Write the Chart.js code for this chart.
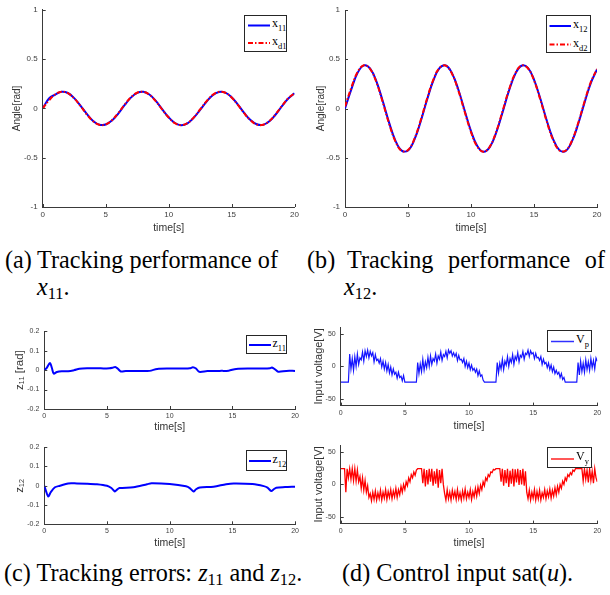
<!DOCTYPE html>
<html>
<head>
<meta charset="utf-8">
<script src="https://cdn.jsdelivr.net/npm/chart.js@4"></script>
<style>
body { margin: 0; background: #fff; }
#fig { position: relative; width: 610px; height: 595px; overflow: hidden; background: #fff; font-family: "Liberation Serif", serif; color: #000; }
#fig canvas { position: absolute; }
.leg { position: absolute; border: 1px solid #262626; background: #fff; box-sizing: border-box; }
.leg svg { position: absolute; left: 0; top: 0; }
.leg .lt { position: absolute; font-size: 12px; line-height: 13px; white-space: nowrap; }
.leg .lt sub { font-size: 8.5px; position: relative; top: 4px; vertical-align: baseline; }
.cap { position: absolute; font-size: 24.2px; line-height: 21px; white-space: nowrap; }
.cap.just { text-align: justify; text-align-last: justify; white-space: normal; }
.cap sub { font-size: 0.68em; vertical-align: baseline; position: relative; top: 0.22em; }
</style>
</head>
<body>
<div id="fig">
  <canvas id="chartA" width="302" height="236" style="left:0;top:0"></canvas>
  <canvas id="chartB" width="305" height="236" style="left:305px;top:0"></canvas>
  <canvas id="chartC1" width="302" height="112" style="left:0;top:322px"></canvas>
  <canvas id="chartC2" width="302" height="112" style="left:0;top:438px"></canvas>
  <canvas id="chartD1" width="305" height="116" style="left:305px;top:318px"></canvas>
  <canvas id="chartD2" width="305" height="114" style="left:305px;top:436px"></canvas>

  <!-- legends -->
  <div class="leg" style="left:244px;top:15px;width:43px;height:37px">
    <svg width="43" height="37"><line x1="3" y1="9.5" x2="25" y2="9.5" stroke="#0000ff" stroke-width="2"/><line x1="3" y1="27" x2="25" y2="27" stroke="#ff0000" stroke-width="2" stroke-dasharray="5 2 1.5 2"/></svg>
    <span class="lt" style="left:27px;top:1px">x<sub>11</sub></span>
    <span class="lt" style="left:27px;top:19px">x<sub>d1</sub></span>
  </div>
  <div class="leg" style="left:546px;top:15px;width:45px;height:38px">
    <svg width="45" height="38"><line x1="2.5" y1="10" x2="24" y2="10" stroke="#0000ff" stroke-width="2"/><line x1="2.5" y1="28.5" x2="24" y2="28.5" stroke="#ff0000" stroke-width="2" stroke-dasharray="5 2 1.5 2"/></svg>
    <span class="lt" style="left:26px;top:2px">x<sub>12</sub></span>
    <span class="lt" style="left:26px;top:21px">x<sub>d2</sub></span>
  </div>
  <div class="leg" style="left:246px;top:335px;width:41px;height:19px">
    <svg width="41" height="19"><line x1="2" y1="9" x2="24" y2="9" stroke="#0000ff" stroke-width="2"/></svg>
    <span class="lt" style="left:25.5px;top:1px">z<sub>11</sub></span>
  </div>
  <div class="leg" style="left:246px;top:450px;width:41px;height:21px">
    <svg width="41" height="21"><line x1="2" y1="10" x2="24" y2="10" stroke="#0000ff" stroke-width="2"/></svg>
    <span class="lt" style="left:25.5px;top:1.5px">z<sub>12</sub></span>
  </div>
  <div class="leg" style="left:547px;top:330px;width:45px;height:22px">
    <svg width="45" height="22"><line x1="3" y1="10.5" x2="26" y2="10.5" stroke="#3030ff" stroke-width="1.5"/></svg>
    <span class="lt" style="left:28px;top:1.5px">V<sub>p</sub></span>
  </div>
  <div class="leg" style="left:547px;top:447px;width:45px;height:21px">
    <svg width="45" height="21"><line x1="3" y1="11" x2="26" y2="11" stroke="#ff2020" stroke-width="1.5"/></svg>
    <span class="lt" style="left:28px;top:2px">V<sub>y</sub></span>
  </div>

  <!-- captions -->
  <div class="cap" style="left:5px;top:249px">(a)</div>
  <div class="cap just" style="left:37px;top:249px;width:241px">Tracking performance of</div>
  <div class="cap" style="left:37px;top:276px"><i>x</i><sub>11</sub>.</div>
  <div class="cap" style="left:307px;top:249px">(b)</div>
  <div class="cap just" style="left:347px;top:249px;width:258px">Tracking performance of</div>
  <div class="cap" style="left:344px;top:276px"><i>x</i><sub>12</sub>.</div>
  <div class="cap" style="left:4px;top:562px">(c) Tracking errors: <i>z</i><sub>11</sub> and <i>z</i><sub>12</sub>.</div>
  <div class="cap" style="left:342px;top:562px">(d) Control input sat(<i>u</i>).</div>
</div>

<script>
// tick labels
const timeTicks = [0, 5, 10, 15, 20];
const angleTicks = [-1, -0.5, 0, 0.5, 1];
const errorTicks = [-0.2, -0.1, 0, 0.1, 0.2];
const voltTicks = [-50, 0, 50];

// (a), (b) angles, sampled every 0.5 s
const angleTime = Array.from({ length: 41 }, (_, i) => i * 0.5);
const x11 = [0, 0.100, 0.140, 0.168, 0.156, 0.104, 0.027, -0.056, -0.127, -0.165, -0.164, -0.123, -0.052, 0.033, 0.109, 0.157, 0.169, 0.138, 0.073, -0.010,
  -0.090, -0.148, -0.170, -0.151, -0.094, -0.015, 0.067, 0.134, 0.167, 0.160, 0.114, 0.039, -0.045, -0.118, -0.161, -0.167, -0.131, -0.062, 0.022, 0.100, 0.153];
const xd1 = [0, 0.081, 0.143, 0.170, 0.155, 0.102, 0.024, -0.060, -0.129, -0.166, -0.163, -0.120, -0.047, 0.037, 0.112, 0.159, 0.168, 0.136, 0.070, -0.013,
  -0.092, -0.150, -0.170, -0.149, -0.091, -0.011, 0.071, 0.137, 0.168, 0.159, 0.111, 0.035, -0.049, -0.121, -0.163, -0.166, -0.128, -0.058, 0.026, 0.103, 0.155];
const x12 = [0, 0.195, 0.362, 0.438, 0.405, 0.272, 0.073, -0.143, -0.326, -0.428, -0.426, -0.319, -0.134, 0.084, 0.281, 0.409, 0.437, 0.357, 0.190, -0.022,
  -0.229, -0.381, -0.440, -0.390, -0.245, -0.040, 0.175, 0.347, 0.434, 0.415, 0.294, 0.101, -0.116, -0.305, -0.420, -0.432, -0.337, -0.160, 0.055, 0.256, 0.397];
const xd2 = [0.02, 0.211, 0.370, 0.439, 0.400, 0.263, 0.062, -0.154, -0.333, -0.430, -0.422, -0.311, -0.123, 0.095, 0.289, 0.413, 0.435, 0.351, 0.181, -0.033,
  -0.239, -0.387, -0.440, -0.385, -0.236, -0.029, 0.185, 0.354, 0.436, 0.411, 0.286, 0.091, -0.127, -0.313, -0.423, -0.429, -0.330, -0.150, 0.066, 0.265, 0.402];

// (c) tracking errors
const z11Time = [0, 0.2, 0.45, 0.6, 0.75, 1.0, 1.4, 1.9, 2.4, 2.8, 3.5, 4.5, 5.2, 5.45, 5.65, 5.85, 6.1, 6.5, 7.5, 8.4,
  9.0, 10.0, 11.0, 11.6, 11.85, 12.1, 12.35, 13.0, 14.0, 14.7, 15.3, 16.5, 17.5, 18.0, 18.15, 18.4, 18.65, 19.3, 20.0];
const z11 = [0, 0.012, 0.036, 0.012, -0.018, -0.01, -0.006, -0.006, 0.0, 0.007, 0.009, 0.009, 0.009, 0.012, 0.016, 0.008, -0.007, -0.005, -0.005, -0.004,
  0.006, 0.008, 0.008, 0.009, 0.015, 0.008, -0.009, -0.005, -0.004, -0.003, 0.006, 0.008, 0.008, 0.01, 0.013, 0.004, -0.008, -0.004, -0.004];
const z12Time = [0, 0.15, 0.32, 0.5, 0.85, 1.25, 1.9, 2.6, 3.4, 4.2, 5.0, 5.35, 5.63, 5.8, 6.0, 7.1, 8.2, 8.55, 10.0, 11.3,
  11.6, 11.9, 12.1, 12.4, 13.5, 14.5, 15.1, 16.6, 17.5, 17.8, 18.1, 18.3, 18.5, 19.2, 20.0];
const z12 = [0, -0.03, -0.056, -0.035, -0.008, 0.0, 0.012, 0.012, 0.011, 0.008, 0.0, -0.012, -0.03, -0.02, -0.012, -0.008, 0.008, 0.013, 0.009, -0.003,
  -0.012, -0.03, -0.018, -0.009, -0.005, 0.008, 0.012, 0.009, -0.002, -0.01, -0.027, -0.018, -0.01, -0.007, -0.005];

// (d) control inputs, sampled every 0.1 s
const voltTime = Array.from({ length: 201 }, (_, i) => i / 10);
const vp = [
  -24, -24, -24, -24, -24, -24, -24, 19, -4, 12,
  -6, 15, 0, 19, 3, 13, 10, 22, 8, 24,
  15, 25, 13, 23, 16, 21, 7, 18, 9, 11,
  5, 12, -1, 8, -4, 6, -7, 3, -10, -1,
  -13, -4, -12, -9, -18, -9, -17, -15, -22, -14,
  -24, -24, -24, -24, -24, -24, -24, -24, -24, -24,
  6, -11, 4, -8, 11, -6, 7, -2, 14, 0,
  16, 3, 12, 8, 19, 5, 16, 11, 22, 9,
  18, 15, 23, 13, 25, 20, 24, 16, 21, 15,
  20, 9, 17, 10, 11, 6, 12, 0, 8, -2,
  5, -5, 2, -6, -3, -9, -4, -14, -7, -15,
  -13, -21, -24, -24, -24, -24, -24, -24, -24, -24,
  -24, -24, 6, -10, 5, -4, 11, -5, 8, 2,
  15, 0, 12, 6, 18, 3, 15, 10, 21, 7,
  17, 14, 23, 11, 20, 18, 25, 15, 24, 19,
  21, 12, 20, 13, 14, 9, 15, 3, 11, 4,
  6, -2, 5, -5, 2, -8, -1, -11, -6, -12,
  -9, -17, -11, -20, -17, -24, -24, -24, -24, -24,
  -24, -24, -24, -24, -24, 6, -13, 8, -8, 5,
  -9, 10, -5, 7, -6, 12, -2, 9, -4, 13,
  8];
const vy = [
  24, 24, 24, 24, -12, 24, 10, 24, 8, 24,
  6, 24, 5, 22, 4, 12, -6, 10, -9, 6,
  -12, -2, -20, -14, -25, -12, -23, -10, -24, -13,
  -22, -9, -24, -12, -21, -8, -23, -11, -20, -8,
  -22, -10, -19, -6, -20, -8, -16, -3, -12, 0,
  -8, 4, -2, 10, 4, 15, 10, 19, 14, 22,
  24, 24, 24, 24, 2, 24, -3, 22, 0, 24,
  4, 24, -2, 20, 1, 24, -5, 22, 2, 24,
  0, -14, -24, -8, -22, -12, -24, -9, -20, -11,
  -23, -8, -22, -13, -24, -10, -21, -7, -22, -12,
  -20, -8, -23, -11, -19, -6, -18, -4, -14, -1,
  -8, 4, -2, 10, 6, 15, 12, 19, 18, 23,
  22, 24, 24, 24, 24, 4, 24, -2, 22, 2,
  24, -4, 21, 1, 24, -3, 23, 3, 24, -1,
  22, 0, 24, -2, 20, -12, -22, -9, -24, -12,
  -21, -8, -24, -11, -22, -9, -24, -13, -20, -8,
  -22, -10, -19, -7, -21, -9, -18, -5, -16, -3,
  -12, 0, -6, 5, 0, 10, 6, 15, 12, 18,
  15, 22, 20, 24, 24, 24, 24, 24, 24, 5,
  24, 8, 22, 3, 24, 6, 20, 2, 24, 10,
  4];

const axisColor = '#3a3a3a';
const tickColor = '#404040';
Chart.defaults.font.family = '"Liberation Sans", Arial, sans-serif';

const pts = (xs, ys) => xs.map((x, i) => ({ x: x, y: ys[i] }));

// MATLAB style ticks pointing into the plot
const inwardTicks = {
  id: 'inwardTicks',
  afterDraw(chart) {
    const { ctx, chartArea: a, scales: { x, y } } = chart;
    ctx.save();
    ctx.strokeStyle = axisColor;
    ctx.lineWidth = 1;
    ctx.beginPath();
    x.ticks.forEach(t => {
      const px = Math.round(x.getPixelForValue(t.value)) + 0.5;
      ctx.moveTo(px, a.bottom);
      ctx.lineTo(px, a.bottom - 3);
    });
    y.ticks.forEach(t => {
      const py = Math.round(y.getPixelForValue(t.value)) + 0.5;
      ctx.moveTo(a.left, py);
      ctx.lineTo(a.left + 3, py);
    });
    ctx.stroke();
    ctx.restore();
  }
};

function makeChart(id, datasets, yTicks, yMin, yMax, yTitle, lay) {
  return new Chart(document.getElementById(id), {
    type: 'line',
    data: { datasets: datasets },
    options: {
      responsive: false,
      animation: false,
      devicePixelRatio: 1,
      layout: { padding: { top: lay.top, right: lay.right, left: 0, bottom: 0 } },
      plugins: { legend: { display: false }, tooltip: { enabled: false } },
      elements: { point: { radius: 0 } },
      scales: {
        x: {
          type: 'linear', min: 0, max: 20,
          afterBuildTicks: s => { s.ticks = timeTicks.map(v => ({ value: v })); },
          afterFit: s => { s.height = lay.xH; },
          grid: { drawOnChartArea: false, drawTicks: false },
          border: { color: axisColor, width: 1 },
          ticks: { color: tickColor, font: { size: lay.tick }, padding: 3, maxRotation: 0, autoSkip: false, callback: v => String(v) },
          title: { display: true, text: 'time[s]', color: '#333', font: { size: 10.5 }, padding: { top: 0, bottom: lay.xtPad } }
        },
        y: {
          min: yMin, max: yMax,
          afterBuildTicks: s => { s.ticks = yTicks.map(v => ({ value: v })); },
          afterFit: s => { s.width = lay.yW; },
          grid: { drawOnChartArea: false, drawTicks: false },
          border: { color: axisColor, width: 1 },
          ticks: { color: tickColor, font: { size: lay.tick }, padding: 5, autoSkip: false, callback: v => String(v) },
          title: { display: true, text: yTitle, color: '#333', font: { size: lay.ytSize }, padding: { top: lay.ytPad, bottom: 0 } }
        }
      }
    },
    plugins: [inwardTicks]
  });
}

const solid = (label, xs, ys, color, w, tension) => ({
  label: label, data: pts(xs, ys), borderColor: color, borderWidth: w, tension: tension, order: 1
});
const dashdot = (label, xs, ys, color) => ({
  label: label, data: pts(xs, ys), borderColor: color, borderWidth: 2, borderDash: [5, 2, 1.5, 2], tension: 0.4, order: 0
});

makeChart('chartA', [
  solid('x11', angleTime, x11, '#0000ff', 2, 0.4),
  dashdot('xd1', angleTime, xd1, '#ff0000')
], angleTicks, -1, 1, 'Angle[rad]',
  { top: 9.3, right: 7, yW: 42.7, xH: 29, tick: 8, xtPad: 1.7, ytSize: 10, ytPad: 11 });

makeChart('chartB', [
  solid('x12', angleTime, x12, '#0000ff', 2, 0.4),
  dashdot('xd2', angleTime, xd2, '#ff0000')
], angleTicks, -1, 1, 'Angle[rad]',
  { top: 10, right: 13, yW: 40, xH: 29, tick: 8, xtPad: 1.7, ytSize: 10, ytPad: 10 });

makeChart('chartC1', [
  solid('z11', z11Time, z11, '#0000ff', 2, 0.3)
], errorTicks, -0.2, 0.2, 'z\u2081\u2081 [rad]',
  { top: 9, right: 6.7, yW: 44.3, xH: 25, tick: 7, xtPad: 0.7, ytSize: 11.5, ytPad: 13 });

makeChart('chartC2', [
  solid('z12', z12Time, z12, '#0000ff', 2, 0.3)
], errorTicks, -0.2, 0.2, 'z\u2081\u2082',
  { top: 7.7, right: 6.7, yW: 44.3, xH: 25.7, tick: 7, xtPad: 1, ytSize: 11.5, ytPad: 13 });

makeChart('chartD1', [
  solid('Vp', voltTime, vp, '#1515ff', 1.2, 0)
], voltTicks, -60, 60, 'Input voltage[V]',
  { top: 8.4, right: 12.7, yW: 35.7, xH: 28.4, tick: 7, xtPad: 1.7, ytSize: 11, ytPad: 7.6 });

makeChart('chartD2', [
  solid('Vy', voltTime, vy, '#ff0000', 1.3, 0)
], voltTicks, -60, 60, 'Input voltage[V]',
  { top: 8.4, right: 12.7, yW: 35.7, xH: 26.4, tick: 7, xtPad: 0.7, ytSize: 11, ytPad: 7.6 });
</script>
</body>
</html>
